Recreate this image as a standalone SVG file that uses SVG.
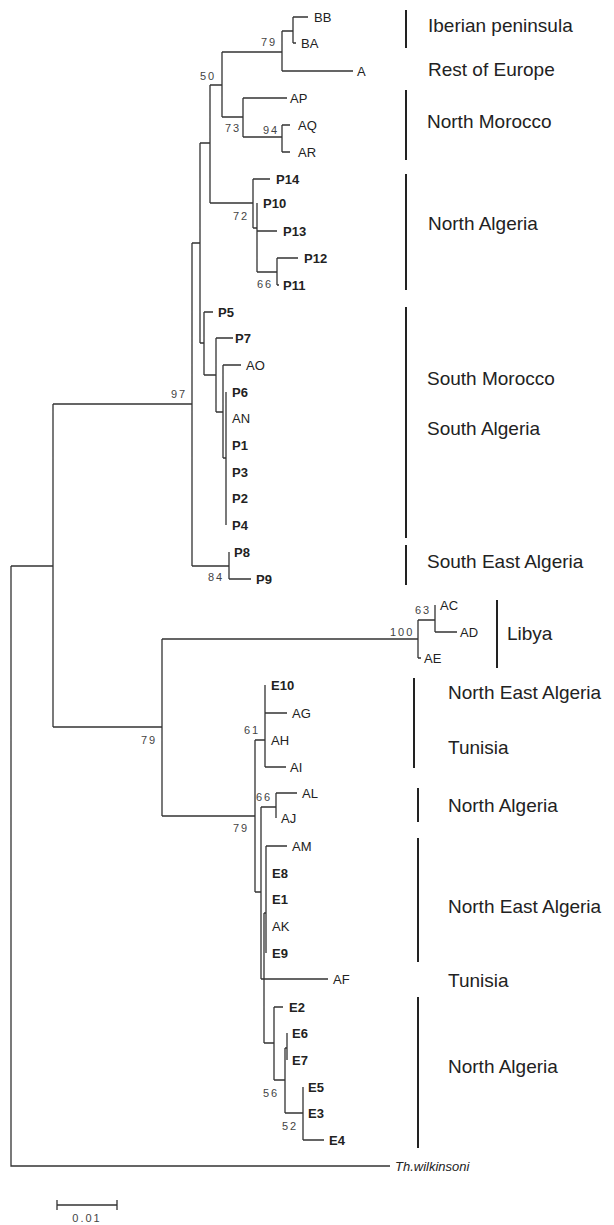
<svg xmlns="http://www.w3.org/2000/svg" width="614" height="1225" viewBox="0 0 614 1225">
<style>
.br{fill:none;stroke:#333;stroke-width:1.3}
.bar{stroke:#222;stroke-width:2}
.t{font-family:"Liberation Sans",Arial,sans-serif;font-size:13px;fill:#222}
.b{font-weight:bold}
.bs{font-family:"Liberation Sans",Arial,sans-serif;font-size:11px;letter-spacing:2px;fill:#444}
.rg{font-family:"Liberation Sans",Arial,sans-serif;font-size:19px;fill:#222}
</style>
<rect width="614" height="1225" fill="#fff"/>
<g id="connectors">
<path class="br" d="M293,17V43M293,17H308M293,43H296M282,31H293
M282,31V71M282,71H353M222,52H282
M282,125V152M282,125H290M282,152H290M243,137H282
M243,98V137M243,98H287M222,117H243
M222,52V117M210,85H222
M253,179V228M253,179H270M210,203H253
M257,203V272M257,231H277M253,228H257
M277,258V285M277,258H298M277,285H279M257,272H277
M210,85V203M200,143H210
M226,392V525M223,458H226
M223,365V458M223,365H241M216,412H223
M216,338V412M216,338H233M204,375H216
M204,312V375M204,312H213M200,343H204
M200,143V343M192,243H200
M229,552V579M229,579H251M192,566H229
M192,243V566M53,404H192
M53,404V727M11,566H53
M435,605V632M435,632H457M418,620H435
M418,620V658M418,658H421M162,639H418
M162,639V816M53,727H162
M255,740V892M162,816H255
M265,685V767M265,713H287M265,767H286M255,740H265
M261,807V979M255,892H261
M276,793V818M276,793H297M261,807H276
M266,846V953M266,846H287M264,913H266
M264,913V1043M264,979H328M261,979H264
M274,1007V1080M274,1007H283M264,1043H274
M285,1048V1113M274,1080H285
M287,1033V1060M285,1048H287
M303,1087V1140M303,1140H324M285,1113H303
M11,566V1166H390"/>
</g>
<g id="tips">
<g id="tip-BB"><text class="t" x="314" y="22">BB</text></g>
<g id="tip-BA"><text class="t" x="301" y="48">BA</text></g>
<g id="tip-A"><text class="t" x="357" y="76">A</text></g>
<g id="tip-AP"><text class="t" x="290" y="103">AP</text></g>
<g id="tip-AQ"><text class="t" x="298" y="130">AQ</text></g>
<g id="tip-AR"><text class="t" x="298" y="157">AR</text></g>
<g id="tip-P14"><text class="t b" x="276" y="184">P14</text></g>
<g id="tip-P10"><text class="t b" x="263" y="208">P10</text></g>
<g id="tip-P13"><text class="t b" x="283" y="236">P13</text></g>
<g id="tip-P12"><text class="t b" x="304" y="263">P12</text></g>
<g id="tip-P11"><text class="t b" x="283" y="290">P11</text></g>
<g id="tip-P5"><text class="t b" x="218" y="317">P5</text></g>
<g id="tip-P7"><text class="t b" x="235" y="343">P7</text></g>
<g id="tip-AO"><text class="t" x="246" y="370">AO</text></g>
<g id="tip-P6"><text class="t b" x="232" y="397">P6</text></g>
<g id="tip-AN"><text class="t" x="232" y="423">AN</text></g>
<g id="tip-P1"><text class="t b" x="232" y="450">P1</text></g>
<g id="tip-P3"><text class="t b" x="232" y="477">P3</text></g>
<g id="tip-P2"><text class="t b" x="232" y="503">P2</text></g>
<g id="tip-P4"><text class="t b" x="232" y="530">P4</text></g>
<g id="tip-P8"><text class="t b" x="234" y="557">P8</text></g>
<g id="tip-P9"><text class="t b" x="256" y="584">P9</text></g>
<g id="tip-AC"><text class="t" x="440" y="610">AC</text></g>
<g id="tip-AD"><text class="t" x="460" y="637">AD</text></g>
<g id="tip-AE"><text class="t" x="424" y="663">AE</text></g>
<g id="tip-E10"><text class="t b" x="271" y="690">E10</text></g>
<g id="tip-AG"><text class="t" x="292" y="718">AG</text></g>
<g id="tip-AH"><text class="t" x="271" y="745">AH</text></g>
<g id="tip-AI"><text class="t" x="290" y="772">AI</text></g>
<g id="tip-AL"><text class="t" x="302" y="798">AL</text></g>
<g id="tip-AJ"><text class="t" x="281" y="823">AJ</text></g>
<g id="tip-AM"><text class="t" x="292" y="851">AM</text></g>
<g id="tip-E8"><text class="t b" x="272" y="878">E8</text></g>
<g id="tip-E1"><text class="t b" x="272" y="904">E1</text></g>
<g id="tip-AK"><text class="t" x="272" y="931">AK</text></g>
<g id="tip-E9"><text class="t b" x="272" y="958">E9</text></g>
<g id="tip-AF"><text class="t" x="333" y="984">AF</text></g>
<g id="tip-E2"><text class="t b" x="289" y="1012">E2</text></g>
<g id="tip-E6"><text class="t b" x="292" y="1038">E6</text></g>
<g id="tip-E7"><text class="t b" x="292" y="1065">E7</text></g>
<g id="tip-E5"><text class="t b" x="308" y="1092">E5</text></g>
<g id="tip-E3"><text class="t b" x="308" y="1118">E3</text></g>
<g id="tip-E4"><text class="t b" x="329" y="1145">E4</text></g>
<g id="tip-Thw"><text class="t" x="395" y="1171" font-style="italic">Th.wilkinsoni</text></g>
</g>
<g id="bootstrap">
<text class="bs" x="261" y="46">79</text>
<text class="bs" x="200" y="80">50</text>
<text class="bs" x="225" y="132">73</text>
<text class="bs" x="263" y="134">94</text>
<text class="bs" x="233" y="220">72</text>
<text class="bs" x="257" y="288">66</text>
<text class="bs" x="171" y="398">97</text>
<text class="bs" x="208" y="581">84</text>
<text class="bs" x="390" y="636">100</text>
<text class="bs" x="415" y="614">63</text>
<text class="bs" x="141" y="744">79</text>
<text class="bs" x="244" y="734">61</text>
<text class="bs" x="256" y="801">66</text>
<text class="bs" x="233" y="832">79</text>
<text class="bs" x="263" y="1097">56</text>
<text class="bs" x="282" y="1130">52</text>
</g>
<g id="regions">
<g id="reg-iberian"><line class="bar" x1="406" y1="10" x2="406" y2="48"/><text class="rg" x="428" y="32">Iberian peninsula</text></g>
<g id="reg-europe"><text class="rg" x="428" y="76">Rest of Europe</text></g>
<g id="reg-nmorocco"><line class="bar" x1="406" y1="90" x2="406" y2="160"/><text class="rg" x="427" y="128">North Morocco</text></g>
<g id="reg-nalgeria1"><line class="bar" x1="406" y1="174" x2="406" y2="290"/><text class="rg" x="428" y="230">North Algeria</text></g>
<g id="reg-south"><line class="bar" x1="406" y1="307" x2="406" y2="538"/><text class="rg" x="427" y="385">South Morocco</text><text class="rg" x="427" y="435">South Algeria</text></g>
<g id="reg-sealgeria"><line class="bar" x1="406" y1="545" x2="406" y2="585"/><text class="rg" x="427" y="568">South East Algeria</text></g>
<g id="reg-libya"><line class="bar" x1="497" y1="600" x2="497" y2="668"/><text class="rg" x="507" y="640">Libya</text></g>
<g id="reg-nea1"><line class="bar" x1="414" y1="678" x2="414" y2="768"/><text class="rg" x="448" y="699">North East Algeria</text><text class="rg" x="448" y="754">Tunisia</text></g>
<g id="reg-nalgeria2"><line class="bar" x1="418" y1="788" x2="418" y2="822"/><text class="rg" x="448" y="812">North Algeria</text></g>
<g id="reg-nea2"><line class="bar" x1="418" y1="838" x2="418" y2="962"/><text class="rg" x="448" y="913">North East Algeria</text></g>
<g id="reg-tunisia2"><text class="rg" x="448" y="987">Tunisia</text></g>
<g id="reg-nalgeria3"><line class="bar" x1="418" y1="997" x2="418" y2="1148"/><text class="rg" x="448" y="1073">North Algeria</text></g>
</g>
<g id="scalebar">
<path class="br" d="M57,1205H117M57,1200V1210M117,1200V1210"/>
<text class="bs" x="87" y="1222" text-anchor="middle" letter-spacing="1">0.01</text>
</g>
</svg>
